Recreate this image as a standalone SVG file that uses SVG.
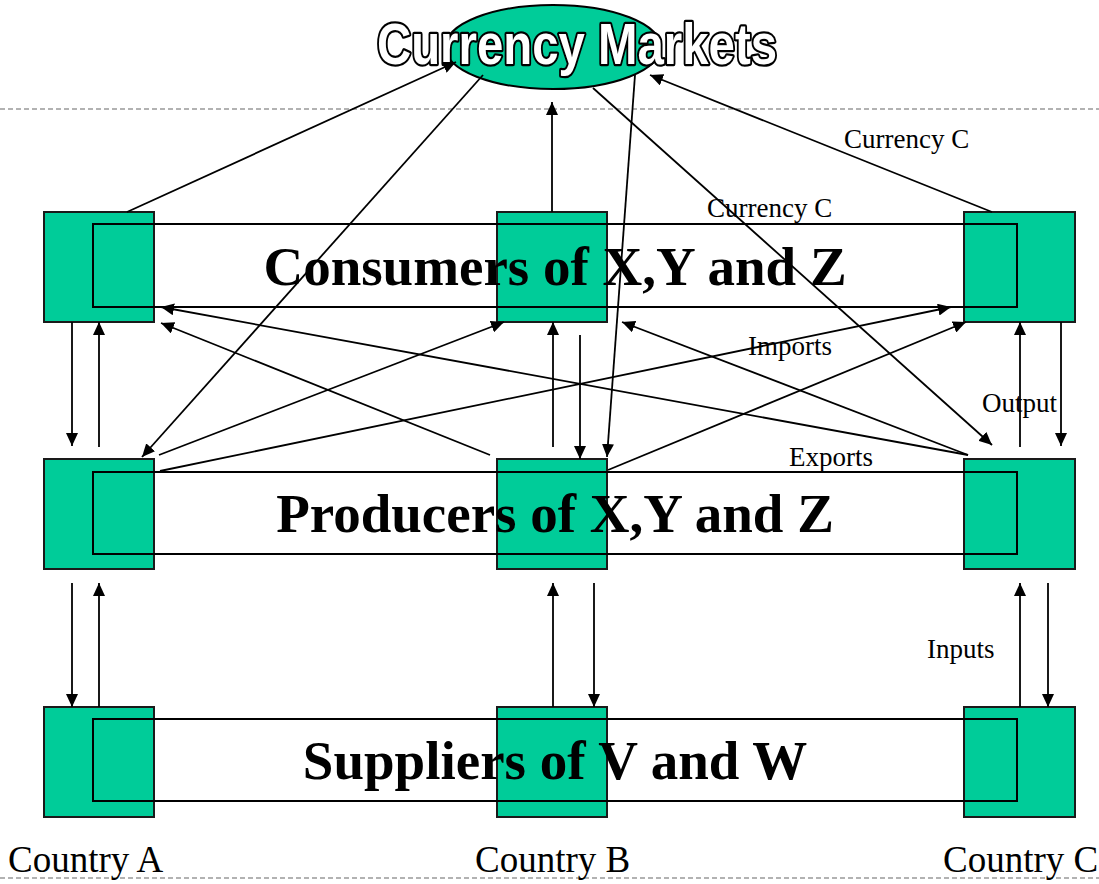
<svg xmlns="http://www.w3.org/2000/svg" width="1099" height="884" viewBox="0 0 1099 884">
<style>
.box{fill:#00CC99;stroke:#1a1a1a;stroke-width:2}
.band{fill:none;stroke:#000;stroke-width:2}
.big{font-family:"Liberation Serif","Times New Roman",serif;font-weight:bold;font-size:55px;fill:#000;text-anchor:middle}
.lbl{font-family:"Liberation Serif","Times New Roman",serif;font-size:27px;fill:#000}
.cty{font-family:"Liberation Serif","Times New Roman",serif;font-size:37px;fill:#000}
.dash{stroke:#999;stroke-width:1.3;stroke-dasharray:5,3;fill:none}
.c line{stroke:#000;stroke-width:1.8;marker-end:url(#ah)}
</style>
<defs>
<marker id="ah" viewBox="0 0 13 12" refX="13" refY="6" markerWidth="13" markerHeight="12" markerUnits="userSpaceOnUse" orient="auto">
<path d="M0,0 L13,6 L0,12 z" fill="#000"/>
</marker>
</defs>
<rect width="1099" height="884" fill="#fff"/>
<line class="dash" x1="0" y1="109" x2="1099" y2="109"/>
<line class="dash" x1="0" y1="878" x2="1099" y2="878"/>

<g id="currency-markets">
<ellipse cx="553" cy="47" rx="108" ry="42" fill="#00CC99" stroke="#000" stroke-width="2"/>
<text x="377" y="64" font-family="'Liberation Sans',Arial,sans-serif" font-weight="bold" font-size="57" textLength="400" lengthAdjust="spacingAndGlyphs" fill="#fff" stroke="#000" stroke-width="4.5" stroke-linejoin="round" paint-order="stroke">Currency Markets</text>
</g>

<g id="consumer-a"><rect class="box" x="44" y="212" width="110" height="110"/></g>
<g id="consumer-b"><rect class="box" x="497" y="212" width="110" height="110"/></g>
<g id="consumer-c"><rect class="box" x="964" y="212" width="111" height="110"/></g>
<g id="producer-a"><rect class="box" x="44" y="459" width="110" height="110"/></g>
<g id="producer-b"><rect class="box" x="497" y="459" width="110" height="110"/></g>
<g id="producer-c"><rect class="box" x="964" y="459" width="111" height="110"/></g>
<g id="supplier-a"><rect class="box" x="44" y="707" width="110" height="110"/></g>
<g id="supplier-b"><rect class="box" x="497" y="707" width="110" height="110"/></g>
<g id="supplier-c"><rect class="box" x="964" y="707" width="111" height="110"/></g>

<g id="consumers">
<rect class="band" x="93" y="224" width="924" height="83"/>
<text class="big" x="555" y="285">Consumers of X,Y and Z</text>
</g>
<g id="producers">
<rect class="band" x="93" y="472" width="924" height="82"/>
<text class="big" x="555" y="532">Producers of X,Y and Z</text>
</g>
<g id="suppliers">
<rect class="band" x="93" y="719" width="924" height="82"/>
<text class="big" x="555" y="779">Suppliers of V and W</text>
</g>

<g id="labels">
<text class="lbl" x="844" y="148">Currency C</text>
<text class="lbl" x="707" y="217">Currency C</text>
<text class="lbl" x="748" y="355">Imports</text>
<text class="lbl" x="789" y="466">Exports</text>
<text class="lbl" x="982" y="412">Output</text>
<text class="lbl" x="927" y="658">Inputs</text>
<text class="cty" x="8" y="872">Country A</text>
<text class="cty" x="475" y="872">Country B</text>
<text class="cty" x="943" y="872">Country C</text>
</g>

<g id="connectors" class="c">
<line x1="127" y1="212" x2="456" y2="62"/>
<line x1="483" y1="75" x2="142" y2="457"/>
<line x1="552" y1="212" x2="552" y2="102"/>
<line x1="593" y1="88" x2="992" y2="445"/>
<line x1="635" y1="75" x2="607" y2="457"/>
<line x1="992" y1="212" x2="650" y2="75"/>
<line x1="72" y1="322" x2="72" y2="446"/>
<line x1="99" y1="447" x2="99" y2="322"/>
<line x1="553" y1="447" x2="553" y2="322"/>
<line x1="580" y1="335" x2="580" y2="459"/>
<line x1="1020" y1="447" x2="1020" y2="322"/>
<line x1="1061" y1="322" x2="1061" y2="446"/>
<line x1="72" y1="583" x2="72" y2="707"/>
<line x1="99" y1="707" x2="99" y2="583"/>
<line x1="553" y1="707" x2="553" y2="583"/>
<line x1="594" y1="583" x2="594" y2="707"/>
<line x1="1020" y1="707" x2="1020" y2="583"/>
<line x1="1048" y1="583" x2="1048" y2="707"/>
<line x1="968" y1="455" x2="161" y2="307"/>
<line x1="490" y1="455" x2="161" y2="323"/>
<line x1="159" y1="455" x2="504" y2="322"/>
<line x1="160" y1="471" x2="951" y2="307"/>
<line x1="608" y1="470" x2="966" y2="322"/>
<line x1="968" y1="455" x2="622" y2="322"/>
</g>
</svg>
